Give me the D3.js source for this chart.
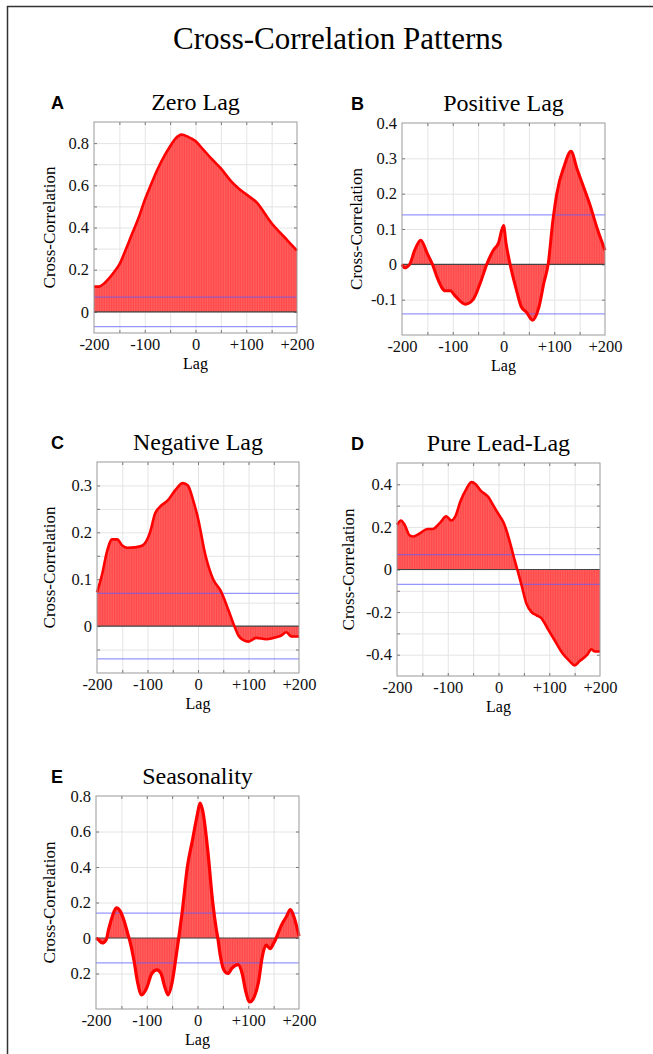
<!DOCTYPE html>
<html>
<head>
<meta charset="utf-8">
<script src="https://cdn.jsdelivr.net/npm/d3@7"></script>
<style>
  body { margin: 0; background: #fff; }
  svg { display: block; }
  .tick text { font-family: "Liberation Serif", "Times New Roman", serif; }
</style>
</head>
<body>
<div id="chart"></div>
<script>
// lag positions and cross-correlation values
var xTicks = [-200, -100, 0, 100, 200];
var xTickLabels = ["-200", "-100", "0", "+100", "+200"];
var xGrid = [-150, -100, -50, 0, 50, 100, 150];

var lagsA = [-200, -190, -180, -170, -160, -150, -140, -125, -110, -100, -90, -75, -60, -50, -40, -27, -15, 0, 15, 30, 50, 70, 85, 100, 120, 150, 175, 200];
var corrA = [0.12, 0.12, 0.135, 0.16, 0.19, 0.225, 0.28, 0.37, 0.46, 0.53, 0.59, 0.675, 0.745, 0.785, 0.82, 0.84, 0.83, 0.81, 0.77, 0.73, 0.68, 0.62, 0.585, 0.557, 0.52, 0.42, 0.355, 0.29];

var lagsB = [-200, -195, -185, -175, -163, -150, -140, -130, -115, -105, -95, -75, -60, -45, -33, -20, -10, 0, 5, 13, 25, 35, 45, 57, 70, 80, 88, 97, 105, 120, 133, 145, 155, 170, 185, 200];
var corrB = [0, -0.01, 0.0, 0.04, 0.068, 0.03, 0, -0.04, -0.075, -0.075, -0.09, -0.113, -0.1, -0.05, 0, 0.04, 0.06, 0.11, 0.06, 0, -0.07, -0.12, -0.135, -0.158, -0.12, -0.05, 0, 0.12, 0.2, 0.28, 0.32, 0.27, 0.23, 0.17, 0.1, 0.04];

var lagsC = [-200, -190, -180, -170, -160, -150, -140, -125, -110, -95, -85, -75, -60, -45, -30, -20, -10, 0, 15, 30, 45, 60, 72, 80, 90, 100, 115, 135, 150, 165, 175, 185, 200];
var corrC = [0.072, 0.11, 0.16, 0.185, 0.185, 0.172, 0.167, 0.168, 0.172, 0.2, 0.24, 0.255, 0.268, 0.29, 0.305, 0.3, 0.27, 0.23, 0.15, 0.1, 0.075, 0.035, 0, -0.02, -0.03, -0.033, -0.025, -0.028, -0.025, -0.02, -0.013, -0.022, -0.022];

var lagsD = [-200, -192, -185, -175, -168, -155, -140, -130, -115, -103, -93, -85, -75, -63, -53, -45, -35, -20, -10, 0, 10, 20, 30, 37, 45, 55, 65, 75, 85, 95, 110, 125, 140, 150, 160, 175, 183, 190, 200];
var corrD = [0.21, 0.23, 0.21, 0.16, 0.155, 0.17, 0.19, 0.19, 0.22, 0.25, 0.23, 0.25, 0.32, 0.38, 0.41, 0.4, 0.37, 0.34, 0.3, 0.26, 0.22, 0.15, 0.06, 0, -0.07, -0.16, -0.2, -0.215, -0.23, -0.27, -0.33, -0.39, -0.43, -0.45, -0.43, -0.4, -0.375, -0.385, -0.385];

var lagsE = [-200, -195, -188, -180, -175, -168, -160, -152, -145, -137, -133, -125, -118, -110, -100, -90, -80, -72, -65, -58, -50, -42, -37, -30, -20, -10, 0, 5, 10, 20, 30, 37, 40, 45, 52, 60, 68, 80, 88, 95, 103, 112, 120, 128, 135, 143, 150, 155, 165, 175, 183, 190, 200];
var corrE = [0, -0.01, -0.028, -0.01, 0.05, 0.12, 0.17, 0.15, 0.1, 0.02, -0.02, -0.13, -0.25, -0.32, -0.28, -0.2, -0.18, -0.2, -0.27, -0.32, -0.25, -0.1, 0, 0.15, 0.4, 0.55, 0.7, 0.76, 0.72, 0.5, 0.2, 0.05, 0, -0.1, -0.18, -0.2, -0.17, -0.15, -0.2, -0.3, -0.36, -0.33, -0.25, -0.1, -0.04, -0.06, -0.03, 0, 0.07, 0.12, 0.16, 0.12, 0.01];

var yTicksA = [0, 0.2, 0.4, 0.6, 0.8], yLabelsA = ["0", "0.2", "0.4", "0.6", "0.8"];
var yTicksB = [-0.1, 0, 0.1, 0.2, 0.3, 0.4], yLabelsB = ["-0.1", "0", "0.1", "0.2", "0.3", "0.4"];
var yTicksC = [0, 0.1, 0.2, 0.3], yLabelsC = ["0", "0.1", "0.2", "0.3"];
var yTicksD = [-0.4, -0.2, 0, 0.2, 0.4], yLabelsD = ["-0.4", "-0.2", "0", "0.2", "0.4"];
var yTicksE = [-0.2, 0, 0.2, 0.4, 0.6, 0.8], yLabelsE = ["0.2", "0", "0.2", "0.4", "0.6", "0.8"];

var panels = [
  {letter: "A", title: "Zero Lag", lags: lagsA, vals: corrA, dom: [-0.1, 0.9], grid: 0.1, ticks: yTicksA, labels: yLabelsA, conf: 0.07,
   box: {x: 94, y: 122, w: 203, h: 211}, ylx: 55, lx: 51, lw: 2.6},
  {letter: "B", title: "Positive Lag", lags: lagsB, vals: corrB, dom: [-0.2, 0.4], grid: 0.1, ticks: yTicksB, labels: yLabelsB, conf: 0.14,
   box: {x: 402, y: 123, w: 203, h: 212}, ylx: 362, lx: 351, lw: 3},
  {letter: "C", title: "Negative Lag", lags: lagsC, vals: corrC, dom: [-0.1, 0.35], grid: 0.05, ticks: yTicksC, labels: yLabelsC, conf: 0.07,
   box: {x: 97, y: 462, w: 202, h: 211}, ylx: 55, lx: 51, lw: 2.6},
  {letter: "D", title: "Pure Lead-Lag", lags: lagsD, vals: corrD, dom: [-0.5, 0.5], grid: 0.1, ticks: yTicksD, labels: yLabelsD, conf: 0.07,
   box: {x: 397, y: 463, w: 203, h: 213}, ylx: 354, lx: 351, lw: 2.6},
  {letter: "E", title: "Seasonality", lags: lagsE, vals: corrE, dom: [-0.4, 0.8], grid: 0.2, ticks: yTicksE, labels: yLabelsE, conf: 0.14,
   box: {x: 96, y: 796, w: 203, h: 213}, ylx: 55, lx: 51, lw: 3.2}
];

var serif = '"Liberation Serif", "Times New Roman", serif';
var sans = '"Liberation Sans", Arial, sans-serif';

var svg = d3.select("#chart").append("svg").attr("width", 653).attr("height", 1054);

// stem texture for the filled area
var pat = svg.append("defs").append("pattern").attr("id", "stems")
  .attr("patternUnits", "userSpaceOnUse").attr("width", 1.7).attr("height", 10);
pat.append("rect").attr("width", 1.7).attr("height", 10).attr("fill", "#ff4747");
pat.append("rect").attr("x", 1.1).attr("width", 0.6).attr("height", 10).attr("fill", "#ff6a6a");

// outer frame (top and left only)
svg.append("path").attr("d", "M7.5,1054 L7.5,6.5 L653,6.5").attr("fill", "none").attr("stroke", "#333").attr("stroke-width", 1.5);

svg.append("text").attr("x", 338).attr("y", 49).attr("text-anchor", "middle")
  .attr("font-family", serif).attr("font-size", 31).text("Cross-Correlation Patterns");

panels.forEach(function(p) {
  var b = p.box;
  var g = svg.append("g").attr("transform", "translate(" + b.x + "," + b.y + ")");
  var x = d3.scaleLinear().domain([-200, 200]).range([0, b.w]);
  var y = d3.scaleLinear().domain(p.dom).range([b.h, 0]);

  var yGrid = d3.range(Math.ceil(p.dom[0] / p.grid - 1e-6), Math.floor(p.dom[1] / p.grid + 1e-6) + 1)
    .map(function(k) { return +(k * p.grid).toFixed(3); })
    .filter(function(v) { return v > p.dom[0] + 1e-6 && v < p.dom[1] - 1e-6; });

  // grid
  g.append("g").attr("class", "grid")
    .call(d3.axisLeft(y).tickValues(yGrid).tickSize(-b.w).tickFormat(""))
    .call(function(s) { s.select(".domain").remove(); s.selectAll("line").attr("stroke", "#e4e4e4"); });
  g.append("g").attr("class", "grid").attr("transform", "translate(0," + b.h + ")")
    .call(d3.axisBottom(x).tickValues(xGrid).tickSize(-b.h).tickFormat(""))
    .call(function(s) { s.select(".domain").remove(); s.selectAll("line").attr("stroke", "#e4e4e4"); });

  // small inward ticks on all sides
  var tk = function(s) { s.select(".domain").remove(); s.selectAll("line").attr("stroke", "#777"); };
  g.append("g").call(d3.axisLeft(y).tickValues(yGrid).tickSize(-3).tickFormat("")).call(tk);
  g.append("g").attr("transform", "translate(" + b.w + ",0)").call(d3.axisRight(y).tickValues(yGrid).tickSize(-3).tickFormat("")).call(tk);
  g.append("g").attr("transform", "translate(0," + b.h + ")").call(d3.axisBottom(x).tickValues(xGrid).tickSize(-3).tickFormat("")).call(tk);
  g.append("g").call(d3.axisTop(x).tickValues(xGrid).tickSize(-3).tickFormat("")).call(tk);

  var pts = p.lags.map(function(l, i) { return [l, p.vals[i]]; });
  var area = d3.area().curve(d3.curveMonotoneX)
    .x(function(d) { return x(d[0]); }).y0(y(0)).y1(function(d) { return y(d[1]); });
  var line = d3.line().curve(d3.curveMonotoneX)
    .x(function(d) { return x(d[0]); }).y(function(d) { return y(d[1]); });

  g.append("path").datum(pts).attr("d", area).attr("fill", "url(#stems)");

  // zero line
  g.append("line").attr("x1", 0).attr("x2", b.w).attr("y1", y(0)).attr("y2", y(0))
    .attr("stroke", "#444").attr("stroke-width", 1.2);

  // confidence bounds
  [p.conf, -p.conf].forEach(function(c) {
    g.append("line").attr("x1", 0).attr("x2", b.w).attr("y1", y(c)).attr("y2", y(c))
      .attr("stroke", "#5d5dff").attr("stroke-opacity", 0.65).attr("stroke-width", 1.3);
  });

  g.append("path").datum(pts).attr("d", line).attr("fill", "none")
    .attr("stroke", "#ff0000").attr("stroke-width", p.lw).attr("stroke-linejoin", "round");

  // box
  g.append("rect").attr("width", b.w).attr("height", b.h).attr("fill", "none").attr("stroke", "#999").attr("stroke-width", 1);

  // tick labels
  g.append("g")
    .call(d3.axisLeft(y).tickValues(p.ticks).tickSize(0).tickPadding(5)
      .tickFormat(function(d, i) { return p.labels[i]; }))
    .call(function(s) {
      s.select(".domain").remove();
      s.selectAll("text").attr("font-size", 16.5).attr("fill", "#111");
    });
  g.append("g").attr("transform", "translate(0," + b.h + ")")
    .call(d3.axisBottom(x).tickValues(xTicks).tickSize(0).tickPadding(5)
      .tickFormat(function(d, i) { return xTickLabels[i]; }))
    .call(function(s) {
      s.select(".domain").remove();
      s.selectAll("text").attr("font-size", 16.5).attr("fill", "#111");
    });

  // titles and labels
  svg.append("text").attr("x", b.x + b.w / 2).attr("y", b.y - 12).attr("text-anchor", "middle")
    .attr("font-family", serif).attr("font-size", 24).text(p.title);
  svg.append("text").attr("x", p.lx).attr("y", b.y - 13)
    .attr("font-family", sans).attr("font-weight", "bold").attr("font-size", 18).text(p.letter);
  svg.append("text").attr("x", b.x + b.w / 2).attr("y", b.y + b.h + 36).attr("text-anchor", "middle")
    .attr("font-family", serif).attr("font-size", 16).text("Lag");
  svg.append("text").attr("transform", "translate(" + p.ylx + "," + (b.y + b.h / 2) + ") rotate(-90)")
    .attr("text-anchor", "middle").attr("font-family", serif).attr("font-size", 17).text("Cross-Correlation");
});
</script>
</body>
</html>
